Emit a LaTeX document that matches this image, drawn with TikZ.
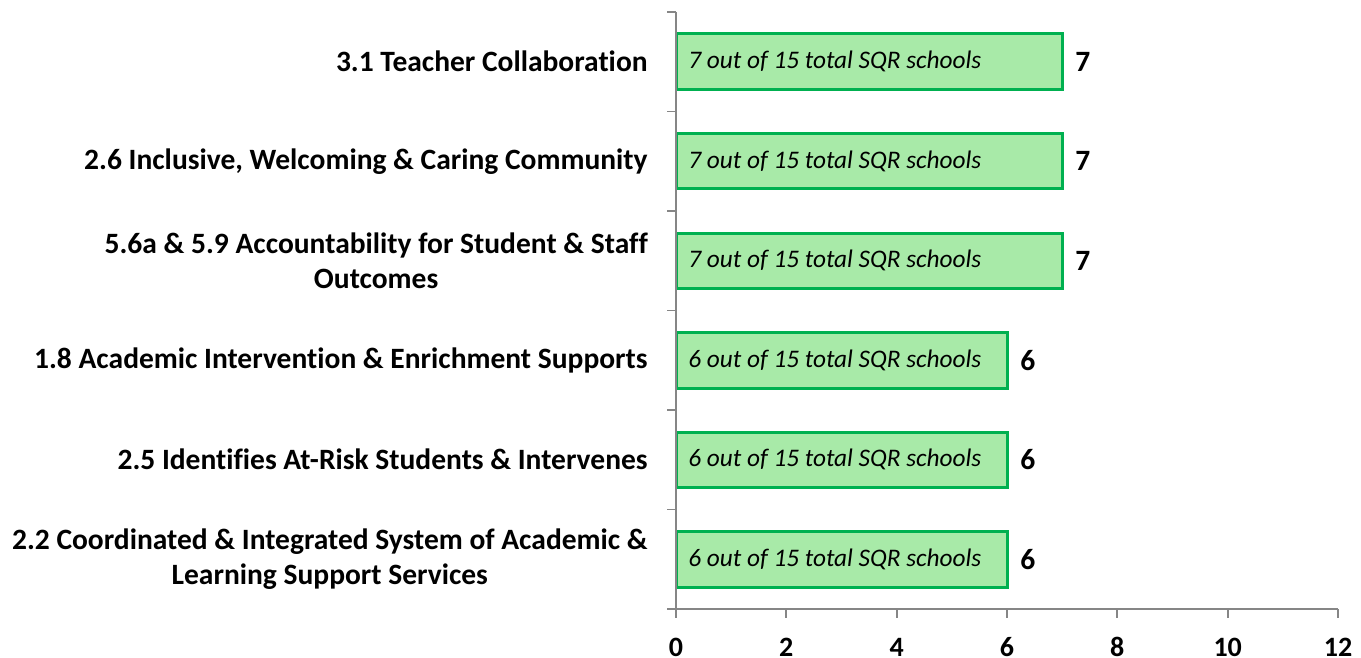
\documentclass[tikz,border=0pt]{standalone}
\usepackage{fontspec}
\setmainfont[Ligatures={NoCommon}]{Carlito}
\tikzset{every picture/.style={line width=0.75pt}}
\definecolor{barline}{RGB}{0,176,80}
\definecolor{barfill}{RGB}{168,234,168}
\definecolor{axisgray}{RGB}{134,134,134}
\tikzset{
  bar/.style={draw=barline,fill=barfill,line width=3pt},
  axisline/.style={draw=axisgray,line width=1.8pt},
  catlabel/.style={anchor=east,align=center,inner sep=0pt,font=\fontsize{29.5}{35}\selectfont\bfseries},
  barlabel/.style={anchor=west,inner sep=0pt,font=\fontsize{25.3}{30}\selectfont\itshape},
  vallabel/.style={anchor=west,inner sep=0pt,font=\fontsize{29.5}{35}\selectfont\bfseries},
  ticklabel/.style={anchor=base,inner sep=0pt,font=\fontsize{28}{32}\selectfont\bfseries}
}

\begin{document}
\begin{tikzpicture}[x=1pt,y=1pt,yscale=-1,xscale=1]
\useasboundingbox (0,0) rectangle (1361,658);

% bars
\draw [bar] (676,34) rectangle (1062,89.5);
\draw [bar] (676,133.5) rectangle (1062,189);
\draw [bar] (676,233) rectangle (1062,288.5);
\draw [bar] (676,332.5) rectangle (1007,388);
\draw [bar] (676,432) rectangle (1007,487.5);
\draw [bar] (676,531.5) rectangle (1007,587);

% axes
\draw [axisline] (676,12) -- (676,609) -- (1338,609);
\foreach \y in {12,111.5,211,310.5,410,509.5,609}
  \draw [axisline] (667,\y) -- (676,\y);
\foreach \x in {676,786.3,896.7,1007,1117.3,1227.7,1338}
  \draw [axisline] (\x,609) -- (\x,618);

% category labels
\node [catlabel] (cat1) at (648,61.75) {3.1 Teacher Collaboration};
\node [catlabel] (cat2) at (648,161.25) {2.6 Inclusive, Welcoming \& Caring Community};
\node [catlabel] (cat3) at (648,260.75) {5.6a \& 5.9 Accountability for Student \& Staff\\Outcomes};
\node [catlabel] (cat4) at (648,360.25) {1.8 Academic Intervention \& Enrichment Supports};
\node [catlabel] (cat5) at (648,459.75) {2.5 Identifies At-Risk Students \& Intervenes};
\node [catlabel] (cat6) at (648,559.25) {2.2 Coordinated \& Integrated System of Academic \&\\Learning Support Services};

% bar texts
\node [barlabel] (in1) at (688,61.75) {7 out of 15 total SQR schools};
\node [barlabel] (in2) at (688,161.25) {7 out of 15 total SQR schools};
\node [barlabel] (in3) at (688,260.75) {7 out of 15 total SQR schools};
\node [barlabel] (in4) at (688,360.25) {6 out of 15 total SQR schools};
\node [barlabel] (in5) at (688,459.75) {6 out of 15 total SQR schools};
\node [barlabel] (in6) at (688,559.25) {6 out of 15 total SQR schools};

% values
\node [vallabel] (val1) at (1075,61.75) {7};
\node [vallabel] (val2) at (1075,161.25) {7};
\node [vallabel] (val3) at (1075,260.75) {7};
\node [vallabel] (val4) at (1020,360.25) {6};
\node [vallabel] (val5) at (1020,459.75) {6};
\node [vallabel] (val6) at (1020,559.25) {6};

% tick labels
\node [ticklabel] (t0) at (676,656) {0};
\node [ticklabel] (t2) at (786.3,656) {2};
\node [ticklabel] (t4) at (896.7,656) {4};
\node [ticklabel] (t6) at (1007,656) {6};
\node [ticklabel] (t8) at (1117.3,656) {8};
\node [ticklabel] (t10) at (1227.7,656) {10};
\node [ticklabel] (t12) at (1338,656) {12};

\end{tikzpicture}
\end{document}
